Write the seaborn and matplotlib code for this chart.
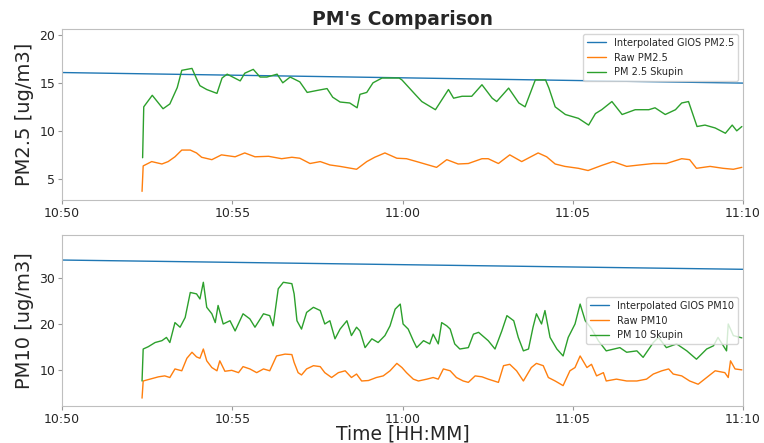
import pandas as pd
import matplotlib
matplotlib.use("Agg")
import matplotlib.pyplot as plt
import matplotlib.dates as mdates
import seaborn as sns

# seconds after 10:50:00 for each reading, and the readings
base = pd.Timestamp("2020-01-01 10:50:00")

gios_sec = [0, 1200]
gios_pm25 = [16.07, 14.97]
gios_pm10 = [33.8, 31.8]

raw25_sec = [141, 143, 158, 176, 187, 199, 211, 226, 237, 246, 264, 281, 305, 322, 340,
             364, 387, 405, 419, 437, 455, 472, 490, 519, 537, 551, 569, 590, 607, 625,
             660, 678, 698, 716, 740, 751, 769, 789, 810, 839, 854, 869, 886, 910, 927,
             951, 971, 995, 1018, 1042, 1065, 1092, 1106, 1118, 1142, 1165, 1183, 1198]
raw25 = [3.7, 6.35, 6.8, 6.55, 6.8, 7.3, 8.0, 8.0, 7.7, 7.25, 7.0, 7.5, 7.3, 7.7, 7.3,
         7.35, 7.1, 7.25, 7.15, 6.6, 6.8, 6.45, 6.3, 6.0, 6.8, 7.25, 7.7, 7.15, 7.1, 6.8,
         6.2, 7.0, 6.55, 6.6, 7.1, 7.1, 6.6, 7.5, 6.8, 7.7, 7.3, 6.55, 6.3, 6.1, 5.87,
         6.4, 6.8, 6.3, 6.45, 6.6, 6.6, 7.1, 7.0, 6.1, 6.3, 6.1, 6.0, 6.2]

sk25_sec = [142, 144, 159, 178, 190, 203, 211, 229, 238, 243, 255, 273, 282, 291, 314,
            322, 337, 349, 361, 379, 389, 402, 419, 432, 449, 467, 477, 490, 507, 520,
            525, 537, 548, 564, 594, 599, 623, 634, 658, 681, 690, 705, 722, 740, 758,
            766, 787, 805, 816, 834, 852, 858, 869, 887, 910, 928, 940, 951, 969, 987,
            1010, 1034, 1045, 1063, 1081, 1092, 1104, 1119, 1133, 1151, 1169, 1181, 1189, 1198]
sk25 = [7.2, 12.5, 13.7, 12.3, 12.8, 14.5, 16.3, 16.5, 15.3, 14.7, 14.3, 13.9, 15.5, 15.9, 15.2,
        16.0, 16.4, 15.6, 15.6, 15.9, 15.0, 15.6, 15.1, 14.0, 14.2, 14.4, 13.5, 13.0, 12.9, 12.4,
        13.8, 14.0, 15.0, 15.5, 15.5, 15.3, 13.75, 13.05, 12.2, 14.3, 13.4, 13.6, 13.6, 14.8, 13.4,
        13.05, 14.45, 12.9, 12.5, 15.3, 15.3, 14.45, 12.5, 11.7, 11.3, 10.6, 11.8, 12.2, 13.05, 11.7,
        12.2, 12.2, 12.4, 11.7, 12.2, 12.9, 13.05, 10.45, 10.6, 10.3, 9.75, 10.6, 10.0, 10.45]

raw10_sec = [141, 143, 155, 170, 181, 190, 199, 211, 220, 229, 237, 243, 249, 255, 264,
             273, 278, 287, 299, 311, 319, 331, 343, 355, 366, 378, 393, 405, 409, 416,
             422, 431, 443, 455, 463, 475, 487, 499, 510, 519, 528, 540, 554, 566, 578,
             590, 599, 607, 619, 628, 643, 654, 663, 672, 684, 695, 707, 716, 728, 740,
             751, 769, 778, 789, 801, 813, 827, 836, 848, 857, 869, 883, 895, 904, 913,
             925, 933, 942, 954, 959, 977, 995, 1013, 1030, 1042, 1057, 1069, 1077, 1092, 1106,
             1121, 1136, 1151, 1168, 1174, 1178, 1186, 1198]
raw10 = [4.0, 7.7, 8.1, 8.6, 8.8, 8.45, 10.3, 9.9, 12.6, 13.9, 12.9, 12.6, 14.6, 12.05, 10.6,
         9.9, 12.05, 9.8, 10.0, 9.5, 10.8, 10.3, 9.5, 10.3, 9.9, 13.1, 13.5, 13.4, 11.7, 9.5,
         9.0, 10.3, 11.0, 10.8, 9.5, 8.45, 9.5, 9.9, 8.45, 9.2, 7.7, 7.8, 8.45, 8.8, 9.9,
         11.5, 10.6, 9.5, 8.1, 7.7, 8.1, 8.45, 8.1, 10.3, 9.9, 8.45, 7.7, 7.4, 8.8, 8.6,
         8.1, 7.4, 11.0, 11.3, 9.9, 7.7, 10.6, 11.5, 11.0, 8.45, 7.7, 6.7, 9.9, 10.6, 13.1,
         10.6, 11.3, 8.8, 9.5, 7.7, 8.1, 7.7, 7.7, 8.1, 9.2, 9.9, 10.3, 9.2, 8.8, 7.7,
         7.0, 8.45, 9.9, 9.5, 8.45, 12.05, 10.3, 10.1]

sk10_sec = [141, 143, 152, 164, 176, 184, 190, 199, 208, 217, 226, 237, 243, 249, 255,
            264, 270, 275, 284, 296, 305, 319, 331, 340, 355, 366, 372, 381, 390, 405,
            409, 414, 422, 431, 443, 455, 463, 472, 481, 490, 502, 510, 519, 525, 534,
            546, 557, 569, 578, 587, 596, 601, 610, 619, 625, 637, 648, 654, 663, 669,
            678, 684, 692, 701, 716, 725, 734, 751, 763, 775, 784, 796, 804, 813, 822,
            830, 836, 845, 851, 860, 872, 883, 892, 904, 913, 922, 933, 945, 959, 983,
            995, 1013, 1024, 1042, 1051, 1065, 1083, 1101, 1118, 1136, 1148, 1156, 1171, 1174, 1183, 1198]
sk10 = [7.7, 14.6, 15.1, 16.0, 16.4, 17.1, 16.0, 20.3, 19.3, 21.4, 26.8, 26.5, 25.4, 29.0, 23.6,
        22.2, 20.3, 24.0, 20.0, 20.7, 18.5, 22.2, 21.1, 19.3, 22.2, 21.8, 19.6, 27.6, 29.0, 28.7,
        26.5, 20.7, 18.9, 22.5, 23.6, 22.9, 20.0, 20.7, 16.8, 18.9, 20.7, 17.5, 19.3, 18.5, 14.9,
        16.8, 16.0, 17.5, 19.6, 23.2, 24.3, 20.0, 18.9, 16.4, 14.9, 16.4, 15.7, 17.8, 15.7, 20.3,
        19.6, 18.9, 15.7, 14.6, 14.9, 17.8, 18.2, 16.4, 14.6, 18.5, 21.8, 20.7, 17.1, 14.2, 14.6,
        19.3, 22.2, 20.0, 22.9, 17.1, 14.6, 13.1, 17.1, 20.0, 24.3, 20.7, 19.0, 16.4, 14.2, 14.9,
        13.9, 14.2, 12.8, 16.0, 17.1, 14.9, 15.7, 14.2, 12.4, 14.6, 15.3, 17.1, 14.2, 20.0, 17.5, 17.0]


def to_time(sec):
    return base + pd.to_timedelta(sec, unit="s")


sns.set_style("white", {"axes.edgecolor": "0.75", "xtick.bottom": True, "ytick.left": True,
                        "xtick.color": "0.15", "ytick.color": "0.15"})
pal = sns.color_palette("tab10")

fig = plt.figure(figsize=(7.64, 4.43), dpi=100)
ax1 = fig.add_axes([0.0812, 0.5485, 0.8913, 0.386])
ax2 = fig.add_axes([0.0812, 0.0835, 0.8913, 0.386])

sns.lineplot(x=to_time(gios_sec), y=gios_pm25, ax=ax1, color=pal[0], lw=1, label="Interpolated GIOS PM2.5")
sns.lineplot(x=to_time(raw25_sec), y=raw25, ax=ax1, color=pal[1], lw=1, label="Raw PM2.5")
sns.lineplot(x=to_time(sk25_sec), y=sk25, ax=ax1, color=pal[2], lw=1, label="PM 2.5 Skupin")

sns.lineplot(x=to_time(gios_sec), y=gios_pm10, ax=ax2, color=pal[0], lw=1, label="Interpolated GIOS PM10")
sns.lineplot(x=to_time(raw10_sec), y=raw10, ax=ax2, color=pal[1], lw=1, label="Raw PM10")
sns.lineplot(x=to_time(sk10_sec), y=sk10, ax=ax2, color=pal[2], lw=1, label="PM 10 Skupin")

ax1.set_ylim(2.8, 20.6)
ax2.set_ylim(2.3, 39.2)
ax1.set_yticks([5, 10, 15, 20])
ax2.set_yticks([10, 20, 30])

for ax in (ax1, ax2):
    ax.set_xlim(to_time(0), to_time(1200))
    ax.xaxis.set_major_locator(mdates.MinuteLocator(byminute=range(0, 60, 5)))
    ax.xaxis.set_major_formatter(mdates.DateFormatter("%H:%M"))
    ax.tick_params(labelsize=9, length=3, pad=2, color="0.6")
    ax.set_xlabel("")

ax1.set_ylabel("PM2.5 [ug/m3]", fontsize=14)
ax2.set_ylabel("PM10 [ug/m3]", fontsize=14)
ax2.set_xlabel("Time [HH:MM]", fontsize=13.5, labelpad=-1)
ax1.set_title("PM's Comparison", fontsize=13.5, fontweight="bold", pad=3)

ax1.legend(loc="upper right", fontsize=7)
ax2.legend(loc="center right", fontsize=7)

fig.savefig("out.png", dpi=100)
